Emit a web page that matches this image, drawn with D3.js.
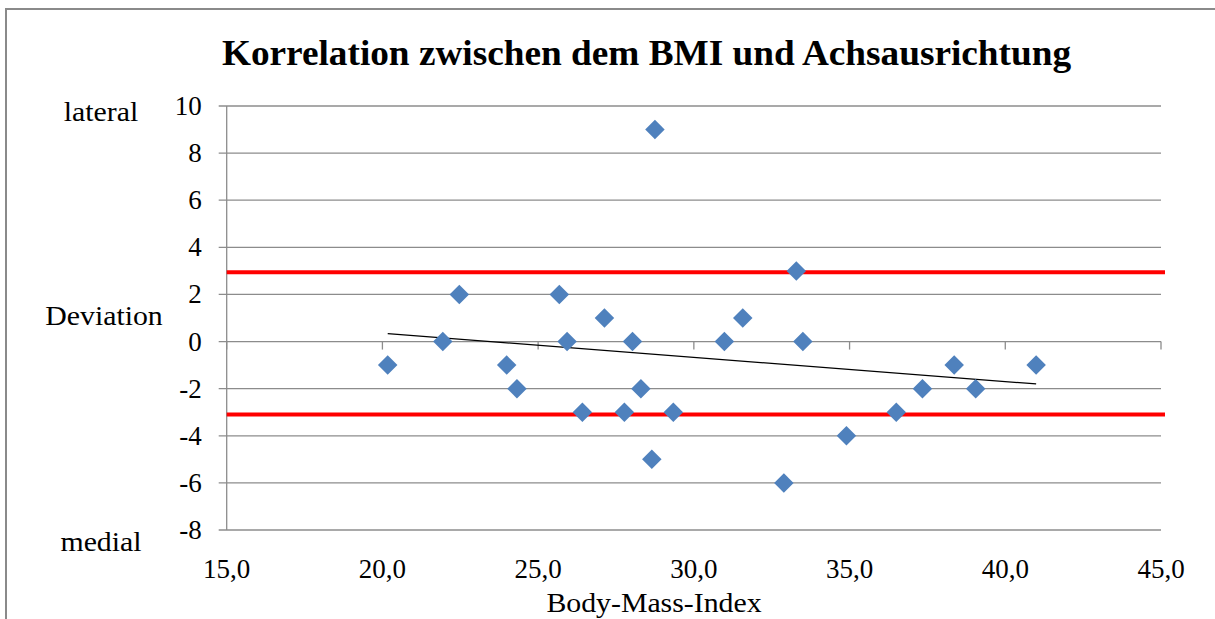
<!DOCTYPE html>
<html>
<head>
<meta charset="utf-8">
<script src="https://cdn.jsdelivr.net/npm/d3@7"></script>
<style>
  body { margin: 0; background: #fff; }
  text { font-family: "Liberation Serif", "Times New Roman", serif; fill: #000; }
</style>
</head>
<body>
<div id="chart"></div>
<script>
// BMI (x) and deviation (y) per patient
const bmi = [20.17, 21.94, 22.47, 23.99, 24.32, 25.68, 25.93, 26.42, 27.13, 27.77, 28.03, 28.3, 28.65,
  28.75, 29.34, 30.98, 31.57, 33.29, 33.5, 32.89, 34.9, 36.5, 37.34, 38.36, 39.05, 40.99];
const deviation = [-1, 0, 2, -1, -2, 2, 0, -3, 1, -3, 0, -2, -5,
  9, -3, 0, 1, 3, 0, -6, -4, -3, -2, -1, -2, -1];
const limits = [2.94, -3.1];
const trendX = [20.17, 40.99];
const trendY = [0.34, -1.8];
const xTicks = [15, 20, 25, 30, 35, 40, 45];
const yTicks = [10, 8, 6, 4, 2, 0, -2, -4, -6, -8];

const W = 1215, H = 619;
const svg = d3.select("#chart").append("svg").attr("width", W).attr("height", H);

svg.append("rect")
  .attr("x", 6).attr("y", 9).attr("width", 1230).attr("height", 640)
  .attr("fill", "none").attr("stroke", "#8a8a8a").attr("stroke-width", 2);

const x = d3.scaleLinear().domain([15, 45]).range([226.7, 1161]);
const y = d3.scaleLinear().domain([-8, 10]).range([530, 106]);

// gridlines with outward ticks
svg.append("g").selectAll("line").data(yTicks).enter().append("line")
  .attr("x1", x(15) - 8).attr("x2", x(45))
  .attr("y1", (d) => y(d)).attr("y2", (d) => y(d))
  .attr("stroke", "#8c8c8c").attr("stroke-width", 1.3);

// vertical axis
svg.append("line")
  .attr("x1", x(15)).attr("x2", x(15)).attr("y1", y(10)).attr("y2", y(-8))
  .attr("stroke", "#8c8c8c").attr("stroke-width", 1.3);

// x axis crossing at 0
svg.append("g").selectAll("line").data(xTicks).enter().append("line")
  .attr("x1", (d) => x(d)).attr("x2", (d) => x(d))
  .attr("y1", y(0)).attr("y2", y(0) + 8)
  .attr("stroke", "#8c8c8c").attr("stroke-width", 1.3);

svg.append("g").selectAll("text").data(yTicks).enter().append("text")
  .attr("x", x(15) - 25).attr("y", (d) => y(d))
  .attr("text-anchor", "end").attr("dominant-baseline", "central")
  .style("font-size", "27px")
  .text((d) => d);

svg.append("g").selectAll("text").data(xTicks).enter().append("text")
  .attr("x", (d) => x(d)).attr("y", 578)
  .attr("text-anchor", "middle")
  .style("font-size", "27px")
  .text((d) => d3.format(".1f")(d).replace(".", ","));

// limits
svg.append("g").selectAll("line").data(limits).enter().append("line")
  .attr("x1", x(15)).attr("x2", x(45) + 4)
  .attr("y1", (d) => y(d)).attr("y2", (d) => y(d))
  .attr("stroke", "#ff0000").attr("stroke-width", 4);

// trend line
svg.append("line")
  .attr("x1", x(trendX[0])).attr("y1", y(trendY[0]))
  .attr("x2", x(trendX[1])).attr("y2", y(trendY[1]))
  .attr("stroke", "#000").attr("stroke-width", 1.2);

const diamond = d3.symbol().type(d3.symbolSquare).size(190);
svg.append("g").selectAll("path").data(bmi).enter().append("path")
  .attr("d", diamond)
  .attr("transform", (d, i) => `translate(${x(d)},${y(deviation[i])}) rotate(45)`)
  .attr("fill", "#4f81bd");

// text is a bit wider in the original, so stretch horizontally
function label(str, cx, cy, size, bold) {
  svg.append("text")
    .attr("transform", `translate(${cx},${cy}) scale(1.065,1)`)
    .attr("text-anchor", "middle")
    .style("font-size", size + "px")
    .style("font-weight", bold ? "bold" : "normal")
    .text(str);
}

label("Korrelation zwischen dem BMI und Achsausrichtung", 646.5, 65, 35, true);
label("Body-Mass-Index", 654, 612, 28);
label("lateral", 101, 121, 28);
label("Deviation", 104, 325, 28);
label("medial", 101, 551, 28);
</script>
</body>
</html>
